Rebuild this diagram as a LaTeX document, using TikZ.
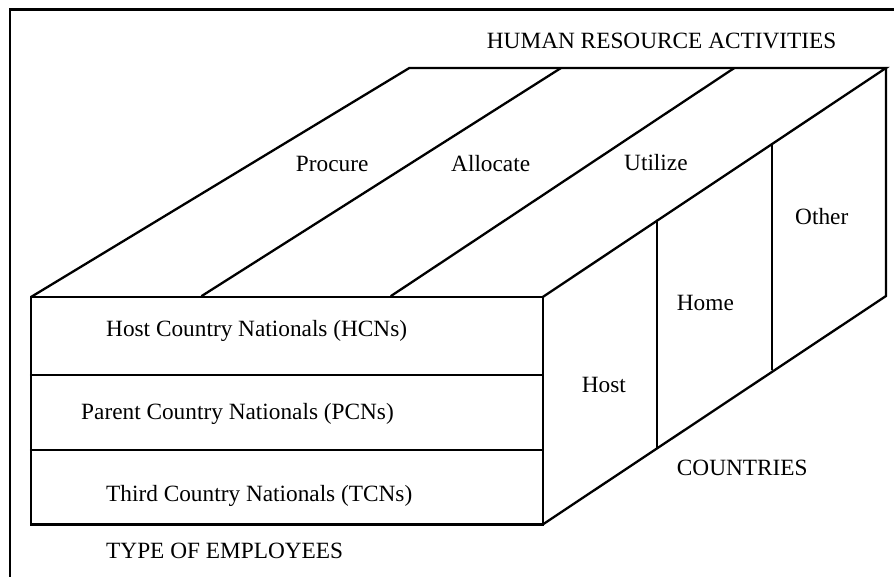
\documentclass[tikz,border=0pt]{standalone}
\usepackage{fontspec}
\setmainfont{Liberation Serif}
\begin{document}
\begin{tikzpicture}[x=1pt,y=-1pt,
  edge/.style={line width=2.3pt,line cap=round,line join=miter},
  frameline/.style={line width=2.6pt},
  lbl/.style={inner sep=0pt,anchor=base west,font=\fontsize{23.3}{28}\selectfont}]
\useasboundingbox (0,0) rectangle (894,576);
\clip (0,0) rectangle (894,576);
\fill[white] (0,0) rectangle (894,576);
% outer frame
\draw[frameline] (10,600) -- (10,9.5) -- (920,9.5);

% corners of the block
\coordinate (ftl) at (31,297);
\coordinate (ftr) at (542.7,297);
\coordinate (fbr) at (542.7,524.5);
\coordinate (fbl) at (31,524.5);
\coordinate (btl) at (409.3,68);
\coordinate (btr) at (886,68);
\coordinate (bbr) at (886,296);

% front face with the three employee rows
\draw[edge] (ftl) rectangle (fbr);
\draw[edge] (31,375) -- (542.7,375);
\draw[edge] (31,450) -- (542.7,450);

% top face with the activity strips
\draw[edge] (ftl) -- (btl) -- (btr) -- (ftr);
\coordinate (s1a) at (201.7,296);
\coordinate (s1b) at (561,68);
\coordinate (s2a) at (391,296);
\coordinate (s2b) at (734.3,68);
\draw[edge] (s1a) -- (s1b);
\draw[edge] (s2a) -- (s2b);

% right face with the country columns
\draw[edge] (btr) -- (bbr) -- (fbr);
\coordinate (c1a) at (657.3,220.5);
\coordinate (c1b) at (657.3,447.5);
\coordinate (c2a) at (771.7,144.3);
\coordinate (c2b) at (771.7,369.5);
\draw[edge] (c1a) -- (c1b);
\draw[edge] (c2a) -- (c2b);

% labels
\node[lbl] (hra) at (486.7,48.3) {HUMAN RESOURCE ACTIVITIES};
\node[lbl] (procure) at (295.7,171) {Procure};
\node[lbl] (allocate) at (451,171) {Allocate};
\node[lbl] (utilize) at (624,170.7) {Utilize};
\node[lbl] (other) at (795,224) {Other};
\node[lbl] (home) at (676.7,310) {Home};
\node[lbl] (host) at (581.7,392.7) {Host};
\node[lbl] (countries) at (676.7,475) {COUNTRIES};
\node[lbl] (hcn) at (106,336) {Host Country Nationals (HCNs)};
\node[lbl] (pcn) at (81,419) {Parent Country Nationals (PCNs)};
\node[lbl] (tcn) at (106,501.7) {Third Country Nationals (TCNs)};
\node[lbl] (types) at (106,558.3) {TYPE OF EMPLOYEES};
\end{tikzpicture}
\end{document}
